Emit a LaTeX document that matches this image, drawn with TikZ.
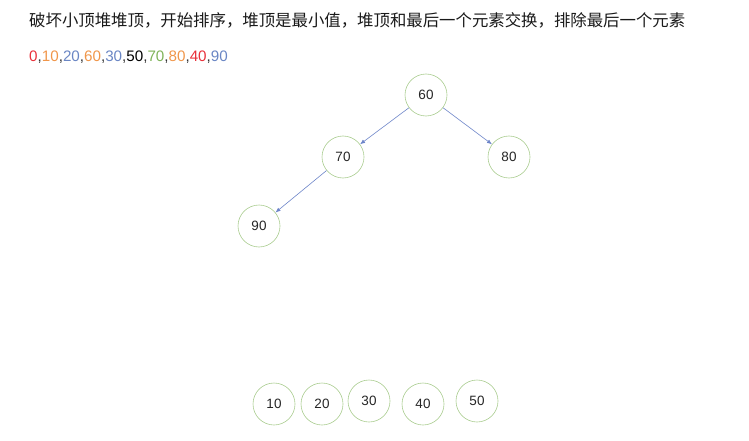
\documentclass[tikz,border=0pt]{standalone}
\usepackage{fontspec}
\setmainfont{Liberation Sans}
\newfontfamily\cjk{Noto Sans CJK SC}
\usetikzlibrary{arrows.meta}
\definecolor{ngreen}{HTML}{A9CC8F}
\definecolor{nblue}{HTML}{6C84C8}
\definecolor{sred}{HTML}{E8303A}
\definecolor{sorange}{HTML}{F0964A}
\definecolor{sblue}{HTML}{6A86C4}
\definecolor{sgreen}{HTML}{7FB35A}
\definecolor{sgray}{HTML}{333333}
\begin{document}
\begin{tikzpicture}[x=1pt,y=-1pt,
  heapnode/.style={circle,draw=ngreen,line width=0.6pt,minimum size=42pt,inner sep=0pt,font=\fontsize{13.5}{13.5}\selectfont,text=black!85},
  heaparrow/.style={draw=nblue,line width=0.6pt,-{Latex[length=5pt,width=4pt]}}]
\useasboundingbox (0,0) rectangle (749,441);
\node[anchor=west,inner sep=0pt,font=\cjk\fontsize{16.4}{16.4}\selectfont,text=black!90] (title) at (29,20) {破坏小顶堆堆顶，开始排序，堆顶是最小值，堆顶和最后一个元素交换，排除最后一个元素};
\node[anchor=west,inner sep=0pt,font=\fontsize{15.2}{15.2}\selectfont] (seq) at (29,57) {\textcolor{sred}{0}\textcolor{sgray}{,}\textcolor{sorange}{10}\textcolor{sgray}{,}\textcolor{sblue}{20}\textcolor{sgray}{,}\textcolor{sorange}{60}\textcolor{sgray}{,}\textcolor{sblue}{30}\textcolor{sgray}{,}\textcolor{black}{50}\textcolor{sgray}{,}\textcolor{sgreen}{70}\textcolor{sgray}{,}\textcolor{sorange}{80}\textcolor{sgray}{,}\textcolor{sred}{40}\textcolor{sgray}{,}\textcolor{sblue}{90}};
\node[heapnode] (n60) at (426,95) {60};
\node[heapnode] (n70) at (343,157) {70};
\node[heapnode] (n80) at (509,157) {80};
\node[heapnode] (n90) at (259,226) {90};
\node[heapnode] (n10) at (274,404) {10};
\node[heapnode] (n20) at (322,404) {20};
\node[heapnode] (n30) at (369,401) {30};
\node[heapnode] (n40) at (423,404) {40};
\node[heapnode] (n50) at (477,401) {50};
\draw[heaparrow] (n60) -- (n70);
\draw[heaparrow] (n60) -- (n80);
\draw[heaparrow] (n70) -- (n90);
\end{tikzpicture}
\end{document}
